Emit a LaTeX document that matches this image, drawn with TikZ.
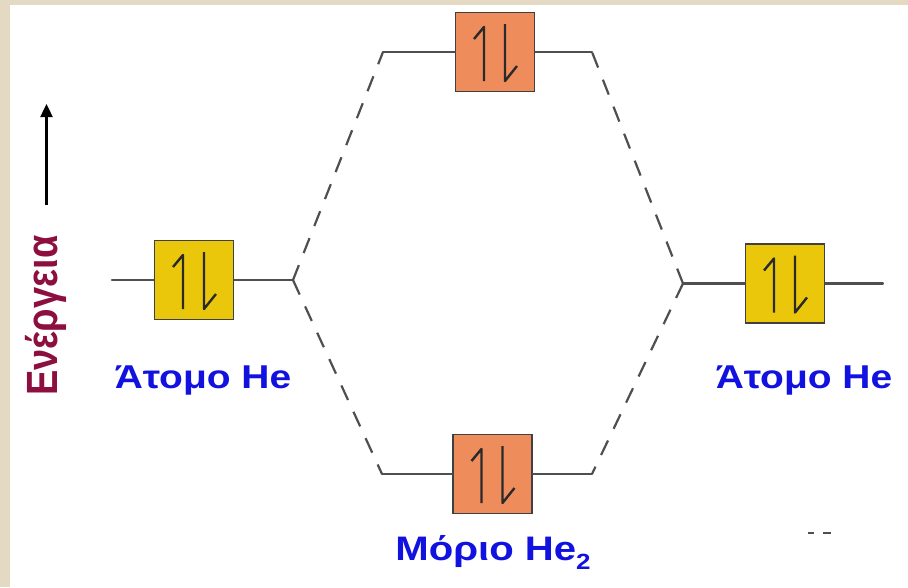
\documentclass[tikz,border=0pt]{standalone}
\usepackage{fontspec}
\setmainfont{Liberation Sans}
\usetikzlibrary{arrows.meta}

\definecolor{paper}{HTML}{E4DAC4}
\definecolor{labelblue}{HTML}{1212E0}
\definecolor{energyred}{HTML}{8C0F3F}
\definecolor{aofill}{HTML}{EBC70C}
\definecolor{mofill}{HTML}{EE8C5C}
\definecolor{levelgray}{HTML}{4F4F4F}
\definecolor{spinink}{HTML}{2A2A2A}

\tikzset{
  level/.style={draw=levelgray, line width=2.2pt, line cap=round},
  corr/.style={draw=levelgray, line width=2.2pt, dash pattern=on 16pt off 13pt},
  orbbox/.style={draw=black!75, line width=1.6pt, minimum width=79pt,
                 minimum height=79pt, inner sep=0pt},
  aobox/.style={orbbox, fill=aofill},
  mobox/.style={orbbox, fill=mofill},
  lbl/.style={text=labelblue, font=\bfseries\fontsize{33}{37}\selectfont,
              inner sep=0pt, anchor=base},
  spinpair/.pic={
    \draw[draw=spinink, line width=2.4pt, line join=round]
      (-11,29) -- (-11,-25) -- (-21,-13);
    \draw[draw=spinink, line width=2.4pt, line join=round]
      (10,-28) -- (10,29) -- (22,14);
  }
}

\begin{document}
\begin{tikzpicture}[x=1pt,y=-1pt]
  % page and frame
  \fill[paper] (0,0) rectangle (908,587);
  \fill[white] (10,5) rectangle (908,587);
  \useasboundingbox (0,0) rectangle (908,587);

  % orbital boxes
  \node[aobox] (ao1) at (194,280) {};
  \node[aobox] (ao2) at (785,283.5) {};
  \node[mobox] (mostar) at (495,52) {};
  \node[mobox] (mo) at (492.5,474) {};

  \pic at (ao1) {spinpair};
  \pic at (ao2) {spinpair};
  \pic at (mostar) {spinpair};
  \pic at (mo) {spinpair};

  % level ends and correlation corners
  \coordinate (a1end) at (112,280);
  \coordinate (v1) at (293,280);
  \coordinate (v2) at (683,283.5);
  \coordinate (a2end) at (883,283.5);
  \coordinate (s1) at (383,52);
  \coordinate (s2) at (592,52);
  \coordinate (b1) at (382,474);
  \coordinate (b2) at (592,474);

  % energy levels
  \draw[level] (a1end) -- (ao1.west);
  \draw[level] (ao1.east) -- (v1);
  \draw[level] (v2) -- (ao2.west);
  \draw[level] (ao2.east) -- (a2end);
  \draw[level] (s1) -- (mostar.west);
  \draw[level] (mostar.east) -- (s2);
  \draw[level] (b1) -- (mo.west);
  \draw[level] (mo.east) -- (b2);

  % correlation lines
  \draw[corr] (v1) -- (s1);
  \draw[corr] (v1) -- (b1);
  \draw[corr] (v2) -- (s2);
  \draw[corr] (v2) -- (b2);

  % labels
  \node[lbl] (lab1) at (203,388) {\scalebox{1.18}[1]{Άτομο He}};
  \node[lbl] (lab2) at (804,388) {\scalebox{1.18}[1]{Άτομο He}};
  \node[lbl, font=\bfseries\fontsize{34}{38}\selectfont] (lab3) at (493,560)
    {\scalebox{1.18}[1]{Μόριο He\raisebox{-9pt}{\fontsize{22}{24}\selectfont 2}}};

  % energy axis
  \node[rotate=90, anchor=base, inner sep=0pt, text=energyred,
        font=\bfseries\fontsize{38}{42}\selectfont] (energy) at (57,315.5)
    {\scalebox{1}[1.15]{Ενέργεια}};
  \coordinate (eTail) at (46.5,205);
  \coordinate (eTip) at (46.5,104);
  \draw[-{Triangle[width=12pt,length=13pt]}, line width=2.4pt] (eTail) -- (eTip);

  % small marks near the lower right
  \coordinate (m1) at (808,533);
  \coordinate (m2) at (814,533);
  \coordinate (m3) at (823,533);
  \coordinate (m4) at (831,533);
  \draw[levelgray, line width=1.5pt] (m1) -- (m2);
  \draw[levelgray, line width=1.5pt] (m3) -- (m4);
\end{tikzpicture}
\end{document}
